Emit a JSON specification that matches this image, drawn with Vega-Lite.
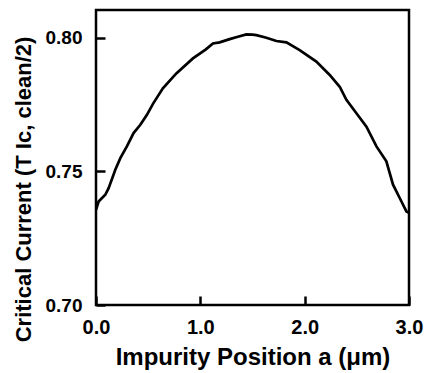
{
  "$schema": "https://vega.github.io/schema/vega-lite/v6.json",
  "width": 313,
  "height": 295,
  "autosize": "none",
  "padding": {"left": 96, "top": 10, "right": 17, "bottom": 68},
  "background": "white",
  "config": {
    "view": {"stroke": "black", "strokeWidth": 2.5},
    "font": "Liberation Sans",
    "axis": {
      "grid": false,
      "domain": false,
      "labelFlush": false,
      "tickColor": "black",
      "tickWidth": 2.5,
      "tickSize": -9,
      "labelFont": "Liberation Sans",
      "labelFontWeight": "bold",
      "labelFontSize": 19,
      "labelColor": "black",
      "titleFont": "Liberation Sans",
      "titleFontWeight": "bold",
      "titleColor": "black"
    }
  },
  "data": {
    "values": [
      {"a": 0.0, "ic": 0.7356},
      {"a": 0.025, "ic": 0.7387},
      {"a": 0.089, "ic": 0.7412},
      {"a": 0.121, "ic": 0.7437},
      {"a": 0.185, "ic": 0.7506},
      {"a": 0.233, "ic": 0.7549},
      {"a": 0.296, "ic": 0.7593},
      {"a": 0.36, "ic": 0.7643},
      {"a": 0.425, "ic": 0.7674},
      {"a": 0.488, "ic": 0.7711},
      {"a": 0.546, "ic": 0.7752},
      {"a": 0.641, "ic": 0.7810},
      {"a": 0.77, "ic": 0.7866},
      {"a": 0.929, "ic": 0.7922},
      {"a": 1.05, "ic": 0.7955},
      {"a": 1.121, "ic": 0.7978},
      {"a": 1.185, "ic": 0.7982},
      {"a": 1.281, "ic": 0.7994},
      {"a": 1.36, "ic": 0.8003},
      {"a": 1.441, "ic": 0.8012},
      {"a": 1.5, "ic": 0.8011},
      {"a": 1.537, "ic": 0.8009},
      {"a": 1.633, "ic": 0.7999},
      {"a": 1.729, "ic": 0.7987},
      {"a": 1.825, "ic": 0.7982},
      {"a": 1.952, "ic": 0.7953},
      {"a": 2.112, "ic": 0.7910},
      {"a": 2.24, "ic": 0.7860},
      {"a": 2.336, "ic": 0.7816},
      {"a": 2.4, "ic": 0.7767},
      {"a": 2.496, "ic": 0.7717},
      {"a": 2.592, "ic": 0.7667},
      {"a": 2.688, "ic": 0.7593},
      {"a": 2.783, "ic": 0.7537},
      {"a": 2.847, "ic": 0.7450},
      {"a": 2.911, "ic": 0.7400},
      {"a": 2.975, "ic": 0.7350},
      {"a": 3.0, "ic": 0.7345}
    ]
  },
  "mark": {"type": "line", "color": "black", "strokeWidth": 2.7, "clip": true},
  "encoding": {
    "x": {
      "field": "a",
      "type": "quantitative",
      "scale": {"domain": [0, 3], "nice": false, "zero": false},
      "axis": {
        "values": [0, 1, 2, 3],
        "format": ".1f",
        "labelPadding": 21,
        "labelFontSize": 20,
        "title": "Impurity Position a (μm)",
        "titleFontSize": 24,
        "titlePadding": 8
      }
    },
    "y": {
      "field": "ic",
      "type": "quantitative",
      "scale": {"domain": [0.70, 0.8103], "nice": false, "zero": false},
      "axis": {
        "values": [0.70, 0.75, 0.80],
        "format": ".2f",
        "labelPadding": 23,
        "title": "Critical Current (T Ic, clean/2)",
        "titleFontSize": 22,
        "titlePadding": 10,
        "titleY": 179
      }
    }
  }
}
